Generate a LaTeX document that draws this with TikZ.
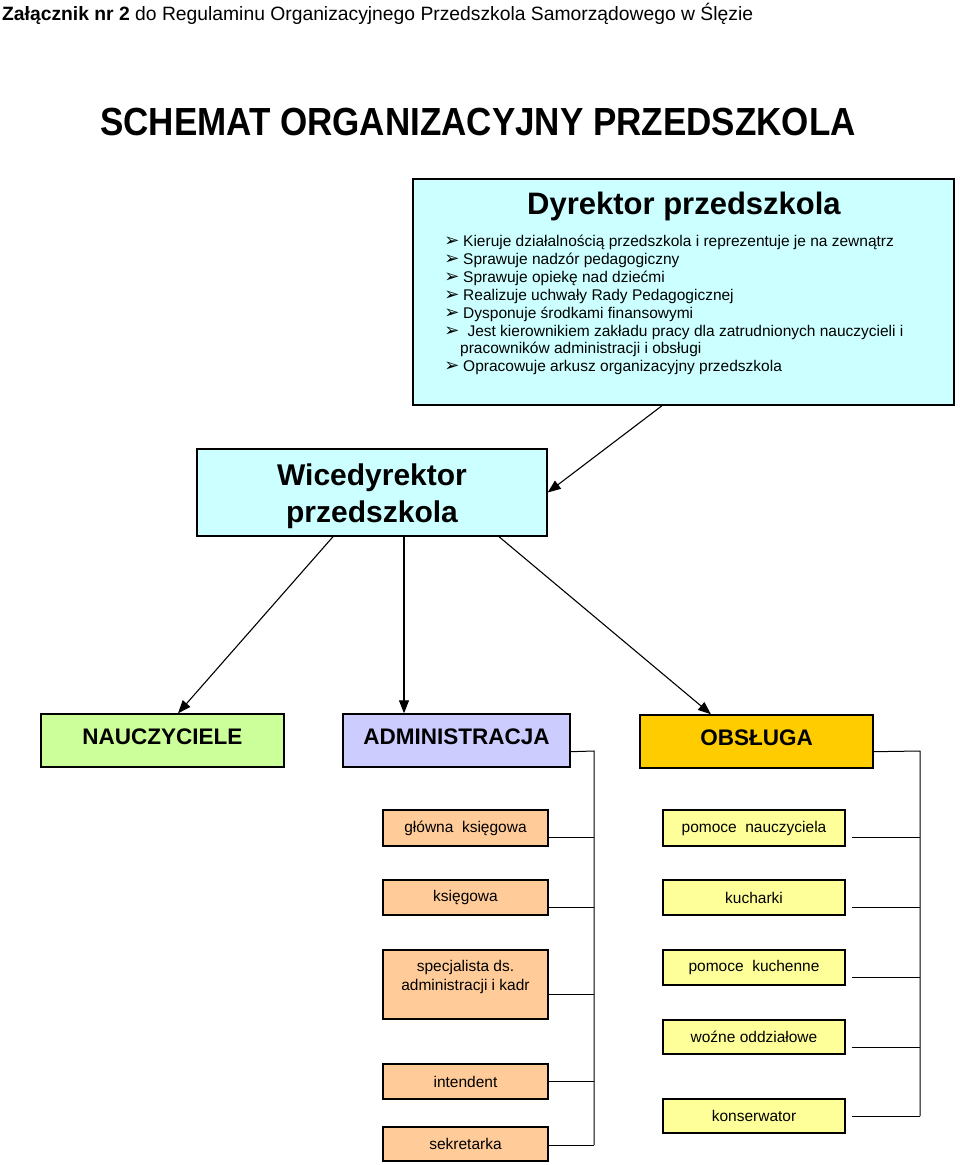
\documentclass[tikz,border=0pt]{standalone}
\usepackage{fontspec}
\setmainfont{Liberation Sans}
\newfontfamily\dejavu{DejaVu Sans}
\usetikzlibrary{arrows.meta}
\definecolor{dcyan}{HTML}{CCFFFF}
\definecolor{dgreen}{HTML}{CCFF99}
\definecolor{dlav}{HTML}{CCCCFF}
\definecolor{dgold}{HTML}{FFCC00}
\definecolor{dpeach}{HTML}{FFCC99}
\definecolor{dyell}{HTML}{FFFF99}
\tikzset{
  box/.style={draw=black, line width=1.4pt, inner sep=0pt, align=center},
  bigbox/.style={box, font=\fontsize{22.5}{26}\selectfont\bfseries, text depth=8pt},
  smallbox/.style={box, font=\fontsize{15.5}{19}\selectfont},
  peach/.style={smallbox, fill=dpeach, minimum width=165pt},
  yell/.style={smallbox, fill=dyell, minimum width=182pt},
  bul/.style={anchor=west, inner sep=0pt, font=\fontsize{15.5}{18}\selectfont},
  bmark/.style={inner sep=0pt, font=\dejavu\fontsize{18}{18}\selectfont},
  conn/.style={line width=1pt},
  arr/.style={line width=1.1pt, -{Triangle[length=13pt,width=10pt]}},
}
\begin{document}
\begin{tikzpicture}[x=1pt,y=-1pt]
\useasboundingbox (0,0) rectangle (960,1165);

% header
\node[anchor=west, inner sep=0pt, font=\fontsize{19.3}{22}\selectfont] (hdr) at (2,14)
  {\textbf{Załącznik nr 2} do Regulaminu Organizacyjnego Przedszkola Samorządowego w Ślęzie};
\node[inner sep=0pt, font=\fontsize{35}{40}\selectfont\bfseries] (title) at (478,122)
  {\scalebox{1}[1.12]{SCHEMAT ORGANIZACYJNY PRZEDSZKOLA}};

% director
\node[box, fill=dcyan, minimum width=541pt, minimum height=226pt] (dyr) at (683.5,292) {};
\node[inner sep=0pt, font=\fontsize{31}{34}\selectfont\bfseries] (dyrt) at (684,206) {Dyrektor przedszkola};
\foreach \i/\y/\t in {1/242/{Kieruje działalnością przedszkola i reprezentuje je na zewnątrz},
                      2/260/{Sprawuje nadzór pedagogiczny},
                      3/278/{Sprawuje opiekę nad dziećmi},
                      4/296/{Realizuje uchwały Rady Pedagogicznej},
                      5/314/{Dysponuje środkami finansowymi},
                      6/332/{\ Jest kierownikiem zakładu pracy dla zatrudnionych nauczycieli i},
                      8/367/{Opracowuje arkusz organizacyjny przedszkola}}{
  \node[bmark] (bm\i) at (452,\y) {➢};
  \node[bul] (bt\i) at (463,\y) {\t};
}
\node[bul] (bt7) at (460,349) {pracowników administracji i obsługi};

% vice director
\node[box, fill=dcyan, minimum width=350pt, minimum height=87pt] (wice) at (372,492.5) {};
\node[inner sep=0pt, align=center, font=\fontsize{30}{37}\selectfont\bfseries] (wicet) at (372,496)
  {Wicedyrektor\\przedszkola};

% departments
\node[bigbox, fill=dgreen, minimum width=243pt, minimum height=53pt] (naucz) at (162.5,740.5) {NAUCZYCIELE};
\node[bigbox, fill=dlav, minimum width=227pt, minimum height=53pt] (admin) at (456.5,740.5) {ADMINISTRACJA};
\node[bigbox, fill=dgold, minimum width=233pt, minimum height=53pt] (obs) at (756.5,741.5) {OBSŁUGA};

% administration staff
\node[peach, minimum height=36pt] (gk) at (465.5,828) {główna\ \ księgowa};
\node[peach, minimum height=35pt] (ks) at (465.5,897.5) {księgowa};
\node[peach, minimum height=69pt, text depth=18pt] (spec) at (465.5,984.5) {specjalista ds.\\administracji i kadr};
\node[peach, minimum height=35pt] (int) at (465.5,1081.5) {intendent};
\node[peach, minimum height=34pt] (sek) at (465.5,1144) {sekretarka};

% service staff
\node[yell, minimum height=36pt] (pn) at (754,828) {pomoce\ \ nauczyciela};
\node[yell, minimum height=35pt] (kuch) at (754,897.5) {kucharki};
\node[yell, minimum height=35pt] (pk) at (754,967.5) {pomoce\ \ kuchenne};
\node[yell, minimum height=34pt] (woz) at (754,1037) {woźne oddziałowe};
\node[yell, minimum height=34pt] (kons) at (754,1116) {konserwator};

% arrows
\draw[arr] ([xshift=-21.5pt]dyr.south) -- (wice.east);
\draw[arr] ([xshift=-39pt]wice.south) -- ([xshift=15.5pt]naucz.north);
\draw[arr] ([xshift=32pt]wice.south) -- ([xshift=-52.5pt]admin.north);
\draw[arr] ([xshift=127pt]wice.south) -- ([xshift=-45.5pt]obs.north);

% admin bus
\coordinate (abus) at (594,751);
\coordinate (abend) at (594,1145);
\draw[conn] ([yshift=16pt]admin.south east) -- (abus) -- (abend);
\foreach \n/\s in {gk/-9, ks/-9.5, spec/-9.5, int/0, sek/-1}{
  \draw[conn] ([yshift=\s pt]\n.east) -- ([yshift=\s pt]\n.east -| abus);
}

% service bus
\coordinate (obus) at (920,751);
\coordinate (obend) at (920,1116);
\draw[conn] ([yshift=17pt]obs.south east) -- (obus) -- (obend);
\foreach \n/\s in {pn/-9, kuch/-9.5, pk/-9.5, woz/-10, kons/0}{
  \draw[conn] ([xshift=6pt,yshift=\s pt]\n.east) -- ([yshift=\s pt]\n.east -| obus);
}
\end{tikzpicture}
\end{document}
